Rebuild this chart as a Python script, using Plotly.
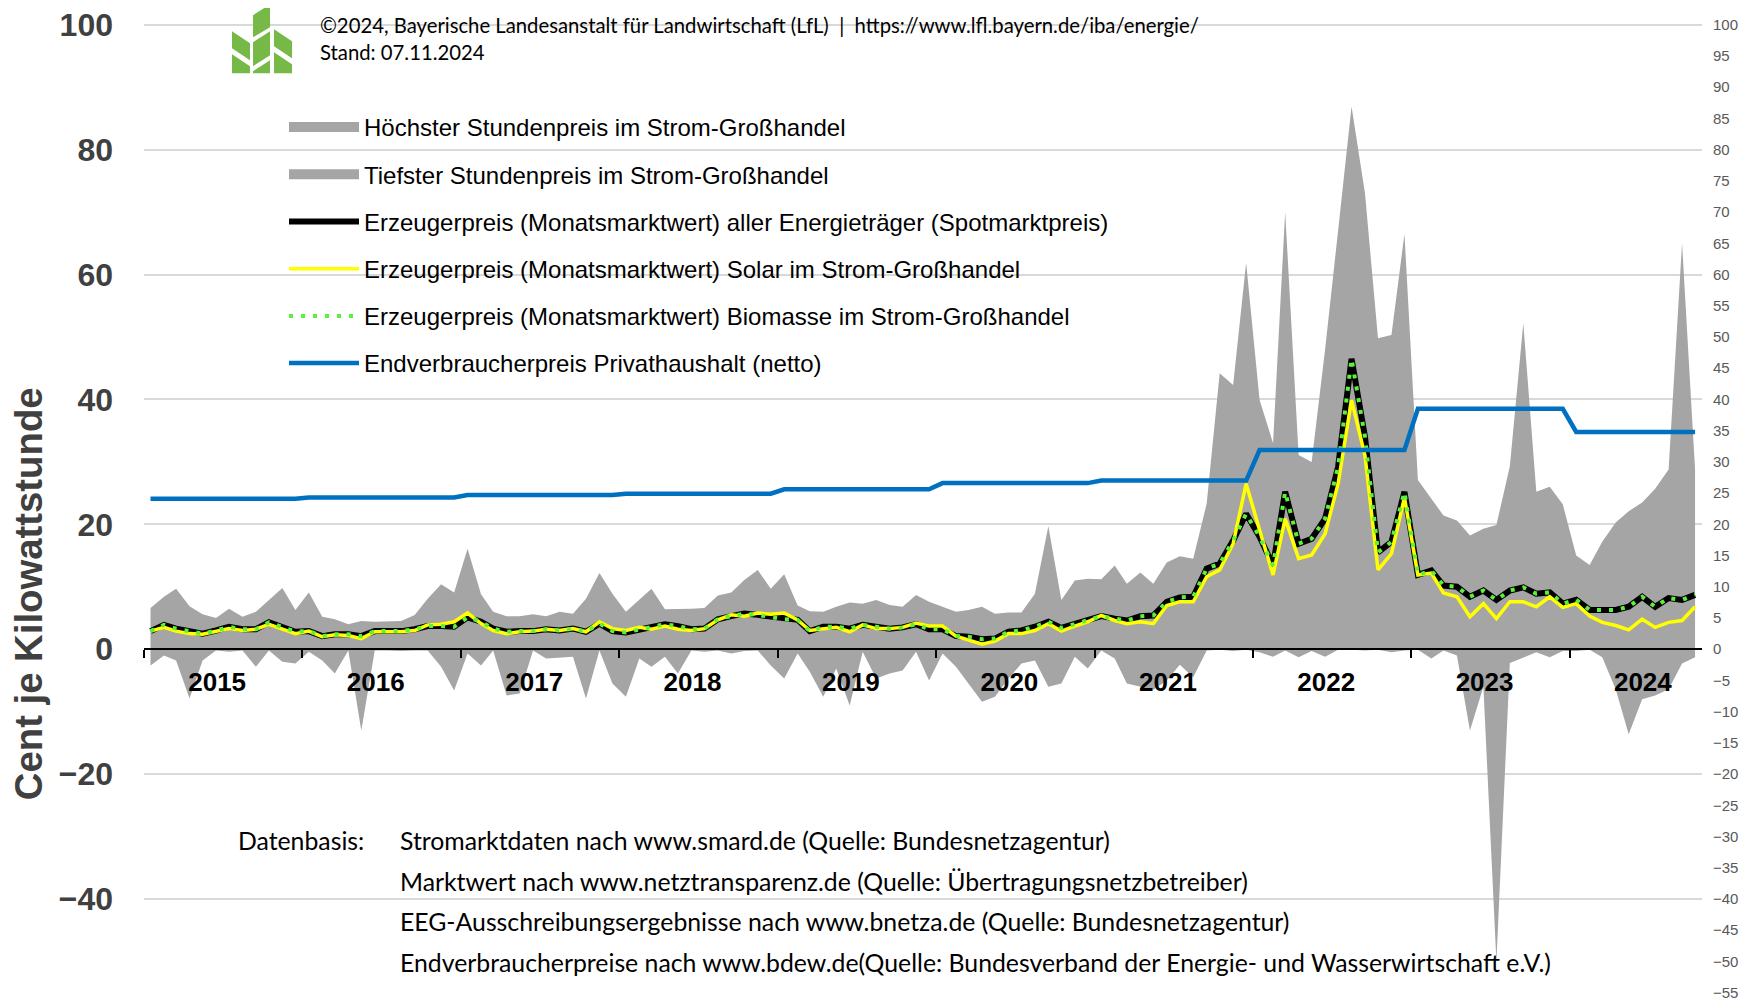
import plotly.graph_objects as go

# ---------------- data (ct/kWh), monthly Jan 2015 - Oct 2024 ----------------
years = list(range(2015, 2025))
months = [f"{y}-{m:02d}-16" for y in years for m in range(1, 13)][:118]

high = [
    6.6, 8.4, 9.7, 6.9, 5.6, 5.0, 6.5, 5.2, 6.0, 7.9, 9.8, 6.3,        # 2015
    9.1, 5.2, 4.8, 4.0, 4.5, 4.4, 4.4, 4.5, 5.5, 8.1, 10.4, 9.1,       # 2016
    16.1, 8.8, 6.0, 5.3, 5.3, 5.6, 5.3, 6.0, 5.7, 8.1, 12.2, 8.9,      # 2017
    6.0, 7.9, 9.7, 6.4, 6.4, 6.5, 6.6, 8.6, 9.1, 11.1, 12.7, 9.7,      # 2018
    12.0, 7.0, 6.1, 6.0, 6.8, 7.5, 7.3, 7.9, 7.1, 6.8, 8.7, 7.6,       # 2019
    6.8, 6.0, 6.3, 6.8, 5.7, 5.9, 5.9, 8.9, 19.7, 7.9, 11.0, 11.3,     # 2020
    11.2, 13.4, 10.5, 12.3, 10.5, 13.9, 14.9, 14.5, 23.3, 44.2, 42.3, 61.9,  # 2021
    39.9, 33.0, 70.0, 31.1, 30.0, 48.0, 67.0, 86.9, 73.0, 49.8, 50.3, 66.5,  # 2022
    27.1, 24.1, 21.4, 20.6, 18.2, 19.3, 19.9, 29.3, 52.2, 25.2, 26.0, 23.2,  # 2023
    15.0, 13.5, 17.2, 20.3, 22.1, 23.5, 25.7, 28.8, 65.0, 28.8,              # 2024
]

low = [
    -2.6, -1.0, -1.8, -7.9, -1.8, -0.2, -0.4, -0.2, -2.8, -0.2, -2.0, -2.3,
    -0.4, -1.8, -3.9, -0.2, -13.0, -0.2, -0.2, -0.3, -0.2, -0.2, -2.8, -6.6,
    -0.7, -2.6, -0.2, -7.4, -7.1, -0.2, -1.5, -1.3, -1.2, -7.9, -0.2, -5.5,
    -7.6, -1.5, -2.8, -1.2, -3.9, -0.2, -0.4, -0.2, -0.7, -0.3, -0.2, -2.6,
    -4.7, -0.7, -3.6, -7.6, -3.1, -9.0, -0.4, -4.7, -3.9, -3.4, -0.4, -5.0,
    -0.7, -2.8, -5.5, -8.4, -7.6, -4.7, -2.3, -1.8, -6.0, -5.5, -1.2, -3.1,
    -0.2, -1.5, -5.5, -6.0, -6.5, -5.0, -2.5, -4.5, -0.2, -0.1, -0.3, -0.1,
    -0.5, -1.2, -0.2, -1.3, -0.3, -1.2, -0.1, -0.1, -0.2, -0.1, -0.5, -0.2,
    -0.1, -1.5, -0.2, -1.0, -13.0, -6.0, -50.0, -2.2, -1.3, -0.5, -1.3, -0.3,
    -0.3, -0.1, -1.3, -6.4, -13.6, -8.0, -7.4, -6.4, -2.3, -1.3,
]

spot = [
    2.9, 3.9, 3.3, 2.9, 2.5, 3.0, 3.6, 3.2, 3.2, 4.3, 3.5, 2.8,
    2.9, 2.1, 2.4, 2.4, 2.1, 2.9, 2.9, 2.9, 3.2, 3.7, 3.7, 3.6,
    5.1, 4.4, 3.3, 2.8, 2.9, 2.9, 3.2, 3.0, 3.3, 2.8, 4.1, 2.9,
    2.7, 3.2, 3.5, 4.0, 3.7, 3.2, 3.3, 4.8, 5.3, 5.7, 5.5, 5.2,
    4.8, 4.7, 2.9, 3.6, 3.6, 3.3, 3.9, 3.6, 3.3, 3.5, 4.0, 3.2,
    3.2, 2.1, 2.0, 1.6, 1.7, 2.8, 3.0, 3.6, 4.4, 3.4, 4.0, 4.7,
    5.3, 4.9, 4.6, 5.3, 5.4, 7.6, 8.3, 8.4, 12.9, 13.7, 17.4, 21.7,
    18.0, 13.4, 25.2, 16.9, 17.7, 20.9, 29.2, 46.5, 34.0, 15.5, 17.2, 25.2,
    11.9, 12.6, 10.2, 10.0, 8.4, 9.4, 7.9, 9.4, 9.9, 8.9, 9.1, 7.3,
    7.9, 6.3, 6.3, 6.3, 6.8, 8.4, 6.8, 8.2, 7.9, 8.7,
]

solar = [
    2.9, 3.5, 2.9, 2.5, 2.4, 2.9, 3.3, 3.0, 3.2, 4.0, 3.3, 2.5,
    2.9, 2.0, 2.3, 2.2, 1.7, 2.8, 2.8, 2.8, 3.0, 3.9, 4.0, 4.4,
    5.8, 4.1, 3.0, 2.5, 2.8, 2.9, 3.2, 3.0, 3.3, 2.8, 4.4, 3.3,
    3.0, 3.5, 3.2, 3.7, 3.2, 3.0, 3.3, 4.7, 5.5, 5.3, 5.8, 5.6,
    5.8, 4.7, 3.0, 3.2, 3.5, 2.8, 3.9, 3.3, 3.3, 3.5, 4.2, 3.7,
    3.7, 2.1, 1.4, 0.8, 1.3, 2.5, 2.5, 3.0, 4.1, 2.9, 3.7, 4.4,
    5.4, 4.6, 4.1, 4.4, 4.1, 7.0, 7.6, 7.6, 11.6, 12.7, 16.9, 26.5,
    19.1, 11.9, 20.9, 14.5, 15.1, 18.5, 26.5, 39.9, 31.0, 12.7, 15.3, 24.3,
    11.9, 12.2, 9.0, 8.4, 5.2, 7.3, 4.9, 7.6, 7.6, 6.8, 8.4, 6.7,
    7.3, 5.3, 4.3, 3.8, 3.1, 4.8, 3.5, 4.3, 4.6, 6.8,
]

biomass = [
    2.9, 3.9, 3.3, 2.9, 2.5, 3.0, 3.6, 3.2, 3.2, 4.3, 3.5, 2.8,
    2.9, 2.1, 2.4, 2.4, 2.1, 2.9, 2.9, 2.9, 3.2, 3.7, 3.7, 3.6,
    5.1, 4.4, 3.3, 2.8, 2.9, 2.9, 3.2, 3.0, 3.3, 2.8, 4.1, 2.9,
    2.7, 3.2, 3.5, 4.0, 3.7, 3.2, 3.3, 4.8, 5.3, 5.7, 5.5, 5.2,
    4.8, 4.7, 2.9, 3.6, 3.6, 3.3, 3.9, 3.6, 3.3, 3.5, 4.0, 3.2,
    3.2, 2.1, 2.0, 1.6, 1.7, 2.8, 3.0, 3.6, 4.4, 3.4, 4.0, 4.7,
    5.3, 4.9, 4.6, 5.3, 5.4, 7.6, 8.3, 8.4, 12.9, 13.7, 17.4, 21.7,
    18.0, 13.4, 25.2, 16.9, 17.7, 20.9, 29.2, 46.5, 34.0, 15.5, 17.2, 25.2,
    11.9, 12.6, 10.2, 10.0, 8.4, 9.4, 7.9, 9.4, 9.9, 8.9, 9.1, 7.3,
    7.9, 6.3, 6.3, 6.3, 6.8, 8.4, 6.8, 8.2, 7.9, 8.7,
]

consumer = ([24.1] * 12 + [24.3] * 12 + [24.7] * 12 + [24.9] * 12 + [25.6] * 12 +
            [26.6] * 12 + [27.0] * 12 + [31.9] * 12 + [38.5] * 12 + [34.8] * 10)

names = [
    "Höchster Stundenpreis im Strom-Großhandel",
    "Tiefster Stundenpreis im Strom-Großhandel",
    "Erzeugerpreis (Monatsmarktwert) aller Energieträger (Spotmarktpreis)",
    "Erzeugerpreis (Monatsmarktwert) Solar im Strom-Großhandel",
    "Erzeugerpreis (Monatsmarktwert) Biomasse im Strom-Großhandel",
    "Endverbraucherpreis Privathaushalt (netto)",
]

left_ticks = [-40, -20, 0, 20, 40, 60, 80, 100]
right_ticks = list(range(-55, 101, 5))

# ---------------- layout geometry (screen px -> paper) ----------------
OFF = 8                       # page body margin of the html page
W, H = 1764 - OFF, 1000 - OFF
Y0, Y1 = -55.05, 100.6
SCALE, ZERO_Y = 6.245, 649.0  # px per unit and screen y of the zero line
ML, MR = 136, 62.4
MT = (ZERO_Y - Y1 * SCALE) - OFF
MB = 1000 - (ZERO_Y - Y0 * SCALE)
PW, PH = W - ML - MR, H - MT - MB


def px(sx):
    return (sx - OFF - ML) / PW


def py(sy):
    return (H - MB - (sy - OFF)) / PH


ARIAL = "Liberation Sans, Arial, sans-serif"
CALIBRI = "Lato, Carlito, Calibri, sans-serif"
GREY = "#A5A5A5"

fig = go.Figure()
fig.add_trace(go.Scatter(x=months, y=high, name=names[0], mode="lines", fill="tozeroy",
                         fillcolor=GREY, line=dict(width=0, color=GREY), showlegend=False))
fig.add_trace(go.Scatter(x=months, y=low, name=names[1], mode="lines", fill="tozeroy",
                         fillcolor=GREY, line=dict(width=0, color=GREY), showlegend=False))
# legend swatches for the two areas (Excel-style grey rectangles)
fig.add_trace(go.Scatter(x=[None], y=[None], name=names[0], mode="lines",
                         line=dict(color=GREY, width=13), legendgroup="a", legendrank=1))
fig.add_trace(go.Scatter(x=[None], y=[None], name=names[1], mode="lines",
                         line=dict(color=GREY, width=13), legendgroup="b", legendrank=2))
fig.add_trace(go.Scatter(x=months, y=spot, name=names[2], mode="lines",
                         line=dict(color="#000000", width=6), legendgroup="c", legendrank=3))
fig.add_trace(go.Scatter(x=months, y=solar, name=names[3], mode="lines",
                         line=dict(color="#FFFF00", width=3.5), legendgroup="d", legendrank=4))
fig.add_trace(go.Scatter(x=months, y=biomass, name=names[4], mode="lines",
                         line=dict(color="#5CF23A", width=4, dash="4px,8px"),
                         legendgroup="e", legendrank=5))
fig.add_trace(go.Scatter(x=months, y=consumer, name=names[5], mode="lines",
                         line=dict(color="#0070C0", width=4.5), legendgroup="f", legendrank=6))
# invisible trace to carry the right-hand axis
fig.add_trace(go.Scatter(x=[months[0]], y=[0], yaxis="y2", mode="markers",
                         marker=dict(opacity=0), showlegend=False, hoverinfo="skip"))

shapes = []
# white panels that interrupt the gridlines (below traces, above grid)
for x0, x1, y0, y1 in [(228, 1339, 0, 48), (232, 1159, 92, 380), (380, 1265, 815, 1000)]:
    shapes.append(dict(type="rect", xref="paper", yref="paper", layer="between",
                       x0=px(x0), x1=px(x1), y0=py(y1), y1=py(y0),
                       fillcolor="white", line=dict(width=0)))

# LfL logo (stylised ear of grain)
logo_polys = [
    [(253, 15), (270, 4), (270, 27), (253, 37)],
    [(253, 42), (270, 31), (270, 55), (253, 66)],
    [(253, 71), (270, 60), (270, 73), (253, 73)],
    [(232, 31), (250, 43), (250, 60), (232, 48)],
    [(232, 54), (250, 66), (250, 73), (232, 73)],
    [(274, 29), (292, 41), (292, 58), (274, 46)],
    [(274, 52), (292, 64), (292, 73), (274, 73)],
]
for poly in logo_polys:
    path = "M " + " L ".join(f"{px(x):.5f},{py(y):.5f}" for x, y in poly) + " Z"
    shapes.append(dict(type="path", xref="paper", yref="paper", path=path,
                       fillcolor="#76B947", line=dict(width=0), layer="above"))

annotations = []


def note(text, x, y, size, family=CALIBRI, xanchor="left", color="#000000", **kw):
    annotations.append(dict(text=text, x=px(x), y=py(y), xref="paper", yref="paper",
                            xanchor=xanchor, yanchor="middle", showarrow=False,
                            font=dict(family=family, size=size, color=color), **kw))


note("©2024, Bayerische Landesanstalt für Landwirtschaft (LfL)  |  https://www.lfl.bayern.de/iba/energie/",
     318, 25, 20.3)
note("Stand: 07.11.2024", 318, 52, 20.3)
note("Datenbasis:", 236, 840, 24.8)
for txt, yy in [("Stromarktdaten nach www.smard.de (Quelle: Bundesnetzagentur)", 840),
                ("Marktwert nach www.netztransparenz.de (Quelle: Übertragungsnetzbetreiber)", 881),
                ("EEG-Ausschreibungsergebnisse nach www.bnetza.de (Quelle: Bundesnetzagentur)", 921),
                ("Endverbraucherpreise nach www.bdew.de(Quelle: Bundesverband der Energie- und Wasserwirtschaft e.V.)", 962)]:
    note(txt, 398, yy, 24.8)

annotations.append(dict(text="<b>Cent je Kilowattstunde</b>", x=px(28), y=py(593),
                        xref="paper", yref="paper", xanchor="center", yanchor="middle",
                        showarrow=False, textangle=-90,
                        font=dict(family=ARIAL, size=38.3, color="#404040")))

fig.update_layout(
    width=W, height=H,
    margin=dict(l=ML, r=MR, t=MT, b=MB, autoexpand=False),
    paper_bgcolor="white", plot_bgcolor="white",
    showlegend=True,
    legend=dict(x=(284 - OFF) / W, y=1 - (105 - OFF) / H, xref="container", yref="container",
                xanchor="left", yanchor="top", bgcolor="rgba(0,0,0,0)",
                font=dict(family=ARIAL, size=24, color="#000000"),
                traceorder="grouped", tracegroupgap=13, itemwidth=70),
    xaxis=dict(type="date", range=["2015-01-01", "2024-11-01"], anchor="free",
               position=-Y0 / (Y1 - Y0), dtick="M12", tick0="2015-01-01", tickformat="%Y",
               ticklabelmode="period", ticks="outside", ticklen=8, tickwidth=1.5,
               tickcolor="#000000", showline=True, linecolor="#000000", linewidth=2,
               showgrid=False, zeroline=False, ticklabelstandoff=2, ticklabelshift=-6,
               tickfont=dict(family=ARIAL, size=26, color="#000000", weight="bold")),
    yaxis=dict(range=[Y0, Y1], tickvals=left_ticks, showgrid=True, gridcolor="#D9D9D9",
               gridwidth=1.5, zeroline=False, showline=False, ticks="",
               ticklabelstandoff=30, ticklabeloverflow="allow",
               tickfont=dict(family=ARIAL, size=32, color="#404040", weight="bold")),
    yaxis2=dict(range=[Y0, Y1], tickvals=right_ticks, overlaying="y", side="right",
                showgrid=False, zeroline=False, showline=False, ticks="",
                ticklabelstandoff=10, ticklabeloverflow="allow",
                tickfont=dict(family=ARIAL, size=15, color="#595959")),
    shapes=shapes,
    annotations=annotations,
)

fig.write_html("out.html")
